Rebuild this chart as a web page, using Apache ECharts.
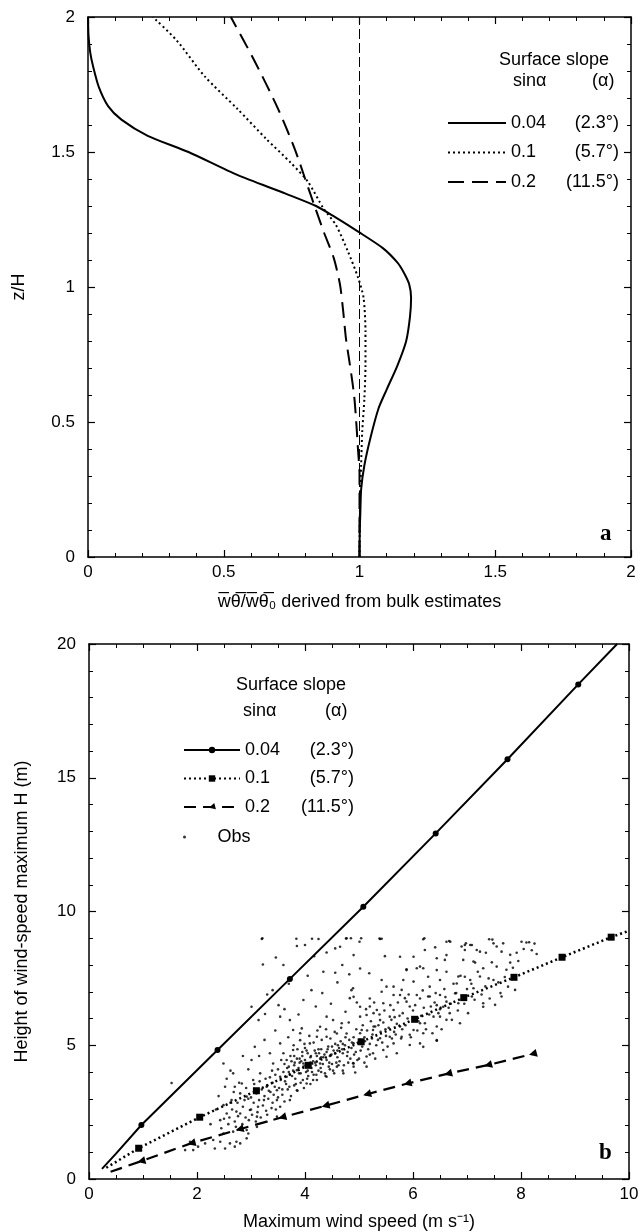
<!DOCTYPE html>
<html>
<head>
<meta charset="utf-8">
<script src="https://cdn.jsdelivr.net/npm/echarts@6/dist/echarts.min.js"></script>
<style>
  html, body { margin: 0; padding: 0; background: #fff; }
  #chart { width: 640px; height: 1232px; }
</style>
</head>
<body>
<div id="chart"></div>
<script>
// panel a: flux ratio (x) against z/H (y), one profile per surface slope
const fluxSlope004 = [[1.0, 0], [1.001, 0.1], [1.003, 0.16], [1.006, 0.25], [1.018, 0.34], [1.04, 0.44], [1.07, 0.55],
  [1.10, 0.62], [1.14, 0.71], [1.172, 0.80], [1.186, 0.89], [1.19, 0.96], [1.183, 1.01], [1.165, 1.05],
  [1.14, 1.09], [1.086, 1.144], [0.995, 1.205], [0.90, 1.265], [0.84, 1.30], [0.73, 1.345], [0.55, 1.415],
  [0.37, 1.50], [0.22, 1.56], [0.123, 1.62], [0.074, 1.67], [0.04, 1.74], [0.018, 1.82], [0.008, 1.87],
  [0.002, 1.93], [0, 2]]
const fluxSlope01 = [[1.0, 0], [1.002, 0.2], [1.006, 0.34], [1.01, 0.463], [1.018, 0.586], [1.022, 0.71],
  [1.022, 0.833], [1.015, 0.96], [0.995, 1.034], [0.958, 1.13], [0.913, 1.23], [0.868, 1.29], [0.81, 1.39],
  [0.747, 1.46], [0.657, 1.548], [0.55, 1.66], [0.43, 1.78], [0.326, 1.914], [0.239, 2]]
const fluxSlope02 = [[1.0, 0], [1.0, 0.31], [0.995, 0.39], [0.988, 0.50], [0.98, 0.60], [0.965, 0.71],
  [0.95, 0.81], [0.94, 0.91], [0.928, 1.01], [0.905, 1.108], [0.868, 1.205], [0.838, 1.29], [0.80, 1.40],
  [0.762, 1.51], [0.70, 1.66], [0.612, 1.84], [0.526, 2]]
const fluxRef = [[1, 0], [1, 2]]

// panel b: maximum wind speed (x) against height of the maximum (y)
// first point (and last for the two upper lines) is a bare line end, the rest carry markers
const hmaxSlope004 = [[0.24, 0.38], [0.5, 0.95], [0.97, 2.02], [2.38, 4.82], [3.72, 7.48], [5.08, 10.18],
  [6.42, 12.92], [7.75, 15.69], [9.06, 18.49], [9.78, 20]]
const hmaxSlope01 = [[0.32, 0.42], [0.92, 1.15], [2.05, 2.31], [3.10, 3.30], [4.06, 4.25], [5.04, 5.13],
  [6.03, 5.97], [6.94, 6.78], [7.87, 7.54], [8.76, 8.29], [9.67, 9.04], [10, 9.28]]
const hmaxSlope02 = [[0.40, 0.27], [0.97, 0.67], [1.90, 1.34], [2.79, 1.86], [3.58, 2.31], [4.38, 2.74],
  [5.15, 3.17], [5.90, 3.57], [6.65, 3.94], [7.39, 4.26], [8.22, 4.68]]

const obs = [
  [3.20, 8.97], [3.85, 8.71], [4.00, 8.75], [4.25, 8.97], [4.76, 8.99], [5.01, 8.87], [5.38, 8.99], [3.46, 8.28],
  [3.22, 8.02], [3.60, 8.00], [4.17, 8.33], [4.40, 8.47], [4.56, 8.62], [4.65, 8.68], [4.90, 8.37], [4.69, 8.00],
  [4.56, 7.71], [4.34, 7.75], [5.02, 7.87], [5.19, 7.69], [5.48, 8.33], [5.76, 8.31], [5.88, 7.81], [6.01, 8.31],
  [6.19, 8.96], [6.41, 8.66], [6.62, 8.37], [6.69, 8.87], [6.96, 8.75], [7.06, 8.75], [7.18, 8.56], [7.15, 8.09],
  [6.96, 7.56], [6.81, 7.31], [6.44, 7.81], [6.28, 7.56], [6.13, 7.94], [5.42, 7.44], [5.64, 7.19], [6.01, 7.38],
  [5.76, 6.88], [5.42, 7.00], [5.20, 6.75], [4.86, 7.06], [4.90, 6.81], [4.12, 7.06], [3.97, 6.69], [3.51, 6.50],
  [3.40, 7.06], [3.01, 6.44], [3.14, 5.94], [3.26, 6.17], [3.54, 6.07], [3.72, 5.94], [3.78, 5.57], [3.94, 5.63],
  [4.40, 6.07], [4.52, 5.94], [4.28, 5.69], [4.68, 5.82], [5.02, 6.44], [5.14, 6.13], [5.33, 6.32], [5.39, 5.94],
  [5.64, 6.32], [5.88, 6.63], [6.13, 6.75], [6.28, 6.82], [6.44, 6.50], [6.62, 6.63], [6.38, 6.07], [6.22, 5.82],
  [6.01, 5.57], [5.79, 5.32], [5.64, 5.07], [5.94, 5.01], [6.19, 4.94], [6.44, 5.19], [5.51, 4.57], [5.26, 4.70],
  [5.14, 4.20], [4.90, 4.32], [4.71, 3.95], [4.59, 4.20], [4.40, 3.82], [4.15, 3.70], [4.03, 3.57], [3.85, 3.32],
  [3.72, 2.95], [3.54, 2.70], [3.48, 2.33], [3.29, 2.14], [3.11, 1.95], [2.92, 1.83], [2.92, 1.52], [2.73, 1.39],
  [2.61, 1.33], [2.43, 1.39], [2.30, 1.46], [2.15, 1.33], [2.02, 1.21], [1.87, 1.39], [1.78, 1.08], [1.93, 1.08],
  [2.33, 1.14], [2.52, 1.14], [2.70, 1.21], [2.80, 1.33], [2.49, 1.70], [2.67, 1.77], [2.95, 1.70], [3.11, 2.33],
  [2.98, 2.58], [2.73, 2.52], [2.55, 2.45], [2.43, 2.20], [2.49, 2.76], [2.64, 2.95], [2.80, 3.20], [2.92, 3.08],
  [2.70, 3.45], [2.52, 3.45], [2.49, 4.32], [2.67, 3.95], [2.83, 3.57], [3.04, 3.70], [3.17, 3.95], [3.01, 4.45],
  [3.07, 4.94], [3.35, 4.70], [3.41, 4.32], [3.29, 3.45], [3.48, 3.32], [3.54, 3.82], [3.66, 3.82], [3.66, 4.45],
  [3.54, 5.07], [3.78, 4.82], [3.91, 5.19], [4.09, 5.07], [4.22, 5.32], [4.40, 5.32], [4.59, 5.44], [4.77, 5.44],
  [4.90, 5.07], [5.05, 5.57], [5.26, 5.57], [5.39, 5.26], [4.56, 4.70], [4.28, 4.32], [3.85, 4.07], [3.97, 4.32],
  [4.77, 9.00], [5.39, 8.97], [6.62, 8.87], [6.98, 8.81], [7.09, 8.75], [7.41, 8.96], [7.49, 8.81], [7.67, 8.81],
  [7.55, 8.69], [8.01, 8.87], [8.10, 8.84], [6.90, 8.69], [6.96, 8.56], [7.24, 8.50], [7.35, 8.46], [7.64, 8.50],
  [7.80, 8.38], [7.92, 8.46], [6.22, 8.56], [6.44, 8.25], [6.59, 8.19], [6.93, 8.19], [7.12, 8.13], [7.30, 7.88],
  [7.55, 7.94], [7.73, 7.82], [7.80, 8.09], [8.29, 8.41], [5.88, 7.84], [6.07, 7.88], [6.19, 7.88], [6.62, 7.75],
  [6.84, 7.57], [7.06, 7.44], [7.24, 7.57], [7.40, 7.50], [7.49, 7.44], [7.76, 7.19], [7.89, 7.07], [7.64, 6.82],
  [7.30, 6.57], [7.52, 6.51], [7.30, 6.44], [6.50, 7.44], [6.31, 7.19], [5.82, 7.44], [5.51, 7.19], [5.79, 7.07],
  [6.07, 6.88], [6.31, 6.82], [6.50, 6.88], [6.78, 6.94], [7.12, 7.13], [7.09, 6.82], [6.84, 6.57], [6.56, 6.44],
  [6.68, 6.20], [6.50, 6.07], [6.62, 5.95], [6.87, 5.82], [6.44, 5.70], [6.13, 5.82], [6.19, 5.45], [6.44, 5.17],
  [6.13, 5.07], [5.94, 5.39], [5.76, 5.70], [5.57, 5.32], [5.27, 5.70], [5.02, 5.20], [5.45, 4.82], [5.70, 4.70],
  [5.14, 4.58], [4.89, 4.33], [4.93, 3.98], [4.89, 7.13], [4.83, 6.76], [5.20, 6.45], [5.45, 6.57], [5.64, 6.88],
  [5.85, 6.76], [5.94, 6.45], [5.02, 6.07], [5.27, 6.20], [5.57, 6.07],
  [3.30, 3.50], [3.35, 3.80], [3.40, 3.60], [3.45, 3.90], [3.50, 4.10], [3.55, 3.70], [3.60, 4.00], [3.62, 4.30],
  [3.65, 3.55], [3.70, 4.20], [3.72, 3.90], [3.75, 4.40], [3.78, 4.05], [3.80, 4.25], [3.82, 3.75], [3.85, 4.50],
  [3.88, 4.15], [3.90, 4.35], [3.92, 3.95], [3.95, 4.60], [3.97, 4.20], [4.00, 4.45], [4.02, 4.00], [4.05, 4.70],
  [4.07, 4.30], [4.10, 4.55], [4.12, 4.15], [4.15, 4.40], [4.18, 4.80], [4.20, 4.25], [4.22, 4.60], [4.25, 4.05],
  [4.28, 4.50], [4.30, 4.85], [4.33, 4.30], [4.36, 4.65], [4.40, 4.45], [4.43, 4.95], [4.46, 4.60], [4.50, 4.30],
  [4.53, 4.80], [4.56, 5.05], [4.60, 4.55], [4.63, 4.90], [4.66, 5.15], [4.70, 4.70], [4.74, 5.00], [4.78, 4.60],
  [4.82, 5.20], [4.86, 4.90], [4.90, 5.30], [4.94, 4.75], [4.98, 5.10], [5.02, 5.45], [5.06, 4.95], [5.10, 5.30],
  [5.15, 5.55], [5.20, 5.05], [5.25, 5.40], [5.30, 5.70], [5.35, 5.20], [5.40, 5.50], [5.45, 5.85], [5.50, 5.35],
  [5.55, 5.65], [5.60, 5.95], [5.65, 5.50], [5.70, 5.80], [5.75, 6.10], [5.80, 5.60], [5.90, 6.00], [6.00, 6.30],
  [6.10, 5.90], [6.20, 6.40], [6.30, 6.15], [6.40, 6.60], [6.50, 6.35], [6.60, 6.80], [6.70, 6.55], [6.80, 6.95],
  [6.90, 6.70], [7.00, 7.10],
  [2.60, 2.30], [2.65, 2.60], [2.70, 2.15], [2.75, 2.85], [2.80, 2.45], [2.85, 2.70], [2.90, 2.30], [2.95, 3.00],
  [3.00, 2.60], [3.05, 2.85], [3.10, 3.20], [3.12, 2.50], [3.15, 2.95], [3.20, 3.35], [3.22, 2.75], [3.25, 3.10],
  [3.28, 2.55], [3.32, 3.00], [3.36, 3.25], [3.40, 2.85], [3.42, 3.15], [3.48, 2.95], [3.52, 3.40], [3.58, 3.15],
  [3.62, 2.90], [3.68, 3.35], [3.74, 3.10], [3.80, 3.50], [3.86, 3.30], [3.92, 3.60], [3.98, 3.40], [4.04, 3.75],
  [4.10, 3.55], [4.16, 3.90], [4.22, 3.70], [4.30, 4.00], [4.38, 3.85], [4.46, 4.10], [4.54, 3.95], [4.62, 4.25],
  [4.70, 4.05], [4.80, 4.35], [4.90, 4.20], [5.00, 4.50], [5.10, 4.35], [5.20, 4.65], [5.30, 4.50],
  [3.90, 4.50], [4.00, 4.90], [4.10, 4.35], [4.20, 4.70], [4.30, 4.55], [4.40, 4.75], [4.50, 4.95], [3.80, 4.60],
  [3.70, 4.00], [4.60, 4.80], [4.70, 5.05], [4.05, 4.05], [4.25, 4.85], [4.45, 4.35], [3.95, 4.75],
  [3.21, 9.00], [3.84, 8.98], [4.13, 8.98], [4.85, 9.00], [5.04, 9.00], [5.42, 8.98], [6.21, 9.00], [6.67, 8.90],
  [7.47, 8.95], [8.15, 8.85], [1.53, 3.59],
  [2.25, 2.05], [2.35, 2.60], [2.40, 3.10], [2.45, 1.90], [2.50, 2.25], [2.55, 3.75], [2.58, 2.05], [2.62, 2.85],
  [2.68, 3.25], [2.72, 1.95], [2.76, 2.35], [2.78, 3.60], [2.84, 2.05], [2.88, 2.95], [2.91, 3.40], [2.96, 2.20],
  [3.00, 3.05], [3.02, 2.40], [3.06, 3.55], [3.09, 2.15], [3.13, 2.70], [3.16, 3.65], [3.18, 2.30], [3.24, 2.95],
  [3.27, 3.75], [3.30, 2.40], [3.33, 3.30], [3.38, 2.65], [3.39, 4.05], [3.44, 3.45], [3.46, 2.60], [3.50, 3.05],
  [3.56, 4.45], [3.58, 3.35], [3.60, 4.70], [3.63, 3.65], [3.67, 4.15], [3.69, 5.30], [3.71, 3.45], [3.73, 4.60],
  [3.76, 3.85], [3.79, 5.00], [3.81, 4.35], [3.83, 3.55], [3.86, 4.85], [3.89, 3.95], [3.91, 5.45], [3.93, 4.40],
  [3.96, 3.70], [3.99, 5.05], [4.01, 4.25], [4.03, 4.80], [4.06, 3.85], [4.08, 5.35], [4.11, 4.60], [4.13, 4.00],
  [4.16, 5.10], [4.19, 4.35], [4.21, 3.90], [4.23, 5.55], [4.26, 4.70], [4.29, 4.15], [4.31, 5.20], [4.34, 4.55],
  [4.37, 3.95], [4.39, 5.60], [4.42, 4.85], [4.44, 4.20], [4.47, 5.25], [4.49, 4.65], [4.52, 4.05], [4.55, 5.50],
  [4.58, 4.35], [4.61, 5.00], [4.64, 4.40], [4.67, 5.65], [4.69, 4.85], [4.72, 4.25], [4.75, 5.30], [4.79, 4.75],
  [4.81, 5.85], [4.84, 4.50], [4.87, 5.10], [4.91, 4.65], [4.95, 5.60], [4.97, 4.45],
  [5.03, 4.80], [5.07, 5.75], [5.11, 5.15], [5.13, 6.35], [5.17, 4.85], [5.22, 5.90], [5.24, 5.25], [5.28, 6.60],
  [5.32, 5.00], [5.36, 5.75], [5.38, 6.15], [5.43, 5.10], [5.47, 6.30], [5.49, 5.60], [5.53, 4.95], [5.58, 6.50],
  [5.61, 5.25], [5.66, 6.05], [5.68, 5.40], [5.72, 6.60], [5.78, 5.25], [5.81, 6.20], [5.86, 5.75], [5.92, 6.90],
  [5.96, 5.30], [6.04, 6.50], [6.08, 5.55], [6.15, 6.10], [6.18, 7.05], [6.24, 5.60], [6.33, 6.45], [6.36, 5.45],
  [6.42, 6.95], [6.47, 6.20], [6.53, 5.60], [6.58, 7.10], [6.66, 6.40], [6.72, 5.95], [6.75, 7.30], [6.83, 6.30],
  [6.88, 7.60], [6.95, 6.55], [7.02, 6.20], [7.08, 7.30], [7.14, 6.70], [7.20, 7.75], [7.27, 6.90], [7.34, 7.20],
  [7.42, 6.75], [7.46, 8.10], [7.58, 7.35], [7.62, 6.95], [7.70, 7.55], [7.85, 7.90], [7.95, 8.15], [8.05, 8.60],
  [8.20, 8.55], [8.25, 8.80],
  [3.30, 6.90], [3.62, 6.35], [3.70, 7.30], [3.88, 6.15], [4.05, 7.60], [4.20, 6.45], [4.32, 6.95], [4.48, 6.55],
  [4.60, 7.35], [4.75, 6.25], [4.82, 7.65], [4.96, 6.60], [3.45, 5.55], [3.25, 5.20], [3.15, 4.60], [2.95, 4.10],
  [2.85, 4.60], [2.62, 4.05]
]

const slopeLabels = ['0.04', '0.1', '0.2']
const angleLabels = ['(2.3°)', '(5.7°)', '(11.5°)']

const FONT = '"Liberation Sans", Arial, Helvetica, sans-serif'
const SERIF = '"Liberation Serif", "Times New Roman", serif'
const INK = '#000'

function marked(points, bare) {
  return points.map((p, i) => (bare.indexOf(i) >= 0 ? { value: p, symbol: 'none' } : p))
}

function axis(gridIndex, position, min, max, interval, minorSplit, extra) {
  return Object.assign({
    type: 'value',
    gridIndex: gridIndex,
    position: position,
    min: min,
    max: max,
    interval: interval,
    axisLine: { show: true, onZero: false, lineStyle: { color: INK, width: 1.5 } },
    axisTick: { show: true, inside: true, length: 7, lineStyle: { color: INK, width: 1.2 } },
    minorTick: { show: true, splitNumber: minorSplit, length: 4, lineStyle: { color: INK, width: 1 } },
    splitLine: { show: false },
    minorSplitLine: { show: false },
    axisLabel: { show: false },
    nameTextStyle: { fontSize: 18, color: INK, fontFamily: FONT }
  }, extra || {})
}

function tickLabels(margin) {
  return { show: true, margin: margin, fontSize: 17, color: INK, fontFamily: FONT }
}

function slopeText(name) {
  const i = Number(name.slice(1)) - 1
  return '{v|' + slopeLabels[i] + '}{d|' + angleLabels[i] + '}'
}

function legendRich(vWidth, dWidth) {
  const t = { fontSize: 18, lineHeight: 18, fontFamily: FONT, color: INK }
  return {
    v: Object.assign({ width: vWidth }, t),
    d: Object.assign({ width: dWidth, align: 'right' }, t)
  }
}

function header(text, left, top) {
  return { text: text, left: left, top: top, padding: 0,
    textStyle: { fontSize: 18, fontWeight: 'normal', color: INK, fontFamily: FONT } }
}

const chart = echarts.init(document.getElementById('chart'), null, { renderer: 'canvas' })

chart.setOption({
  animation: false,
  backgroundColor: '#fff',
  title: [
    header('Surface slope', 499, 51),
    header('sinα', 513, 72),
    header('(α)', 592, 72),
    header('Surface slope', 236, 676),
    header('sinα', 243, 702),
    header('(α)', 325, 702),
    { text: 'a', left: 600, top: 523, padding: 0,
      textStyle: { fontSize: 23, fontWeight: 'bold', color: INK, fontFamily: SERIF } },
    { text: 'b', left: 599, top: 1142, padding: 0,
      textStyle: { fontSize: 23, fontWeight: 'bold', color: INK, fontFamily: SERIF } }
  ],
  legend: [
    {
      data: ['a1', 'a2', 'a3'],
      orient: 'vertical', left: 442, top: 109,
      itemWidth: 58, itemHeight: 14, itemGap: 11.5,
      selectedMode: false,
      itemStyle: { opacity: 0 },
      formatter: slopeText,
      textStyle: { rich: legendRich(52, 56) }
    },
    {
      data: ['b1', 'b2', 'b3'],
      orient: 'vertical', left: 178, top: 736,
      itemWidth: 56, itemHeight: 8, itemGap: 10.5,
      selectedMode: false,
      formatter: slopeText,
      textStyle: { rich: legendRich(52, 57) }
    },
    {
      data: ['obs'],
      orient: 'vertical', left: 178, top: 823,
      itemWidth: 56, itemHeight: 3,
      selectedMode: false,
      formatter: 'Obs',
      textStyle: { fontSize: 18, color: INK, fontFamily: FONT }
    }
  ],
  grid: [
    { left: 88, top: 17, width: 543, height: 540, outerBoundsMode: 'none' },
    { left: 89, top: 644, width: 540, height: 535, outerBoundsMode: 'none' }
  ],
  xAxis: [
    axis(0, 'bottom', 0, 2, 0.5, 5, {
      axisLabel: tickLabels(7),
      name: 'w\u0305\u03b8\u0305/w\u0305\u03b8\u0305\u2080 derived from bulk estimates',
      nameLocation: 'middle', nameGap: 36
    }),
    axis(0, 'top', 0, 2, 0.5, 5),
    axis(1, 'bottom', 0, 10, 2, 4, {
      axisLabel: tickLabels(7),
      name: 'Maximum wind speed (m s\u207b\u00b9)',
      nameLocation: 'middle', nameGap: 34
    }),
    axis(1, 'top', 0, 10, 2, 4)
  ],
  yAxis: [
    axis(0, 'left', 0, 2, 0.5, 5, {
      axisLabel: tickLabels(13),
      name: 'z/H', nameLocation: 'middle', nameGap: 60
    }),
    axis(0, 'right', 0, 2, 0.5, 5),
    axis(1, 'left', 0, 20, 5, 5, {
      axisLabel: tickLabels(13),
      name: 'Height of wind-speed maximum H (m)', nameLocation: 'middle', nameGap: 58
    }),
    axis(1, 'right', 0, 20, 5, 5)
  ],
  series: [
    {
      name: 'obs', type: 'scatter', xAxisIndex: 2, yAxisIndex: 2,
      data: obs, symbol: 'circle', symbolSize: 2.6, silent: true,
      itemStyle: { color: INK }
    },
    {
      name: 'ref', type: 'line', xAxisIndex: 0, yAxisIndex: 0,
      data: fluxRef, symbol: 'none', silent: true,
      lineStyle: { color: INK, width: 1, type: [10, 4] }
    },
    {
      name: 'a1', type: 'line', xAxisIndex: 0, yAxisIndex: 0,
      data: fluxSlope004, symbol: 'none', smooth: 0.25,
      lineStyle: { color: INK, width: 2 }, itemStyle: { color: INK }
    },
    {
      name: 'a2', type: 'line', xAxisIndex: 0, yAxisIndex: 0,
      data: fluxSlope01, symbol: 'none', smooth: 0.25,
      lineStyle: { color: INK, width: 2, type: [2, 3] }, itemStyle: { color: INK }
    },
    {
      name: 'a3', type: 'line', xAxisIndex: 0, yAxisIndex: 0,
      data: fluxSlope02, symbol: 'none', smooth: 0.25,
      lineStyle: { color: INK, width: 2, type: [16, 8] }, itemStyle: { color: INK }
    },
    {
      name: 'b1', type: 'line', xAxisIndex: 2, yAxisIndex: 2,
      data: marked(hmaxSlope004, [0, 1, hmaxSlope004.length - 1]),
      symbol: 'circle', symbolSize: 6, showAllSymbol: true,
      lineStyle: { color: INK, width: 2 }, itemStyle: { color: INK }
    },
    {
      name: 'b2', type: 'line', xAxisIndex: 2, yAxisIndex: 2,
      data: marked(hmaxSlope01, [0, hmaxSlope01.length - 1]),
      symbol: 'rect', symbolSize: 7, showAllSymbol: true,
      lineStyle: { color: INK, width: 2.5, type: [2, 3] }, itemStyle: { color: INK }
    },
    {
      name: 'b3', type: 'line', xAxisIndex: 2, yAxisIndex: 2,
      data: marked(hmaxSlope02, [0]),
      symbol: 'triangle', symbolSize: 8, symbolRotate: 105, showAllSymbol: true,
      lineStyle: { color: INK, width: 2.2, type: [12, 7] }, itemStyle: { color: INK }
    }
  ]
})
</script>
</body>
</html>
